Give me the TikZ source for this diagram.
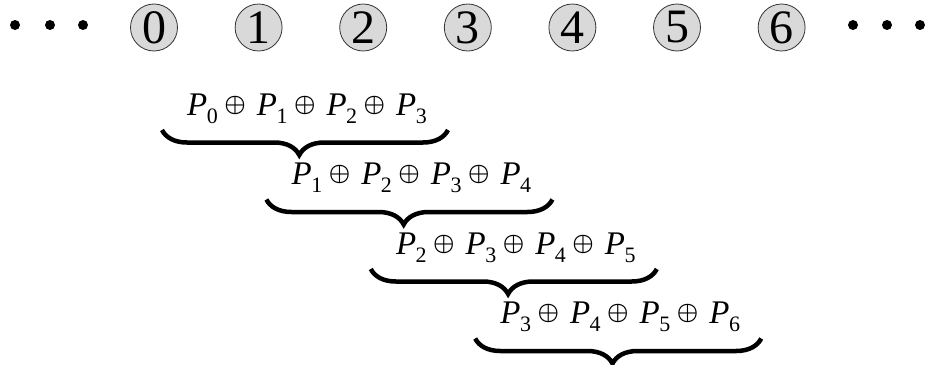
\documentclass[tikz,border=0pt]{standalone}
\usepackage{fontspec}
\setmainfont{Liberation Serif}
\usetikzlibrary{decorations.pathreplacing}
% P with a lowered index
\newcommand{\psub}[1]{\textit{P}\kern-0.5pt\raisebox{-8pt}{\fontsize{22}{22}\selectfont #1}}
\newcommand{\xplus}{\hspace{6.5pt}\raisebox{4pt}{\resizebox{21.5pt}{!}{\boldmath$\oplus$}}\hspace{11pt}}
\begin{document}
\begin{tikzpicture}[x=1pt,y=1pt,
  every node/.style={inner sep=0pt},
  slot/.style={circle,draw=black!80,fill=black!15,line width=0.8pt,minimum size=47pt,
    font=\fontsize{48}{48}\selectfont},
  dot/.style={circle,fill=black,minimum size=10pt},
  sum/.style={anchor=base west,font=\fontsize{33}{33}\selectfont},
  cbrace/.style={decorate,decoration={brace,mirror,amplitude=25pt,aspect=0.48},line width=4.5pt}]
\useasboundingbox (0,0) rectangle (926,-364);
%dots left
\foreach \x/\n in {15/1,50/2,83/3}
  \node[dot] (l\n) at (\x,-25){};
%dots right
\foreach \x/\n in {853/1,887/2,920/3}
  \node[dot] (r\n) at (\x,-25){};
%cells 0..6
\foreach \i in {0,...,6}
  \node[slot] (c\i) at (154+104.6*\i,-27.5){\i};
%sums with braces
\foreach \i in {0,...,3}{
  \pgfmathtruncatemacro\ia{\i+1}
  \pgfmathtruncatemacro\ib{\i+2}
  \pgfmathtruncatemacro\ic{\i+3}
  \begin{scope}[shift={(104.4*\i,-69.5*\i)}]
  \node[sum] (s\i) at (187,-115){\psub{\i}\xplus\psub{\ia}\xplus\psub{\ib}\xplus\psub{\ic}};
  \coordinate (bl\i) at (162,-130);
  \coordinate (br\i) at (448,-130);
  \draw[cbrace] (bl\i) -- (br\i);
  \end{scope}
}
\end{tikzpicture}
\end{document}
